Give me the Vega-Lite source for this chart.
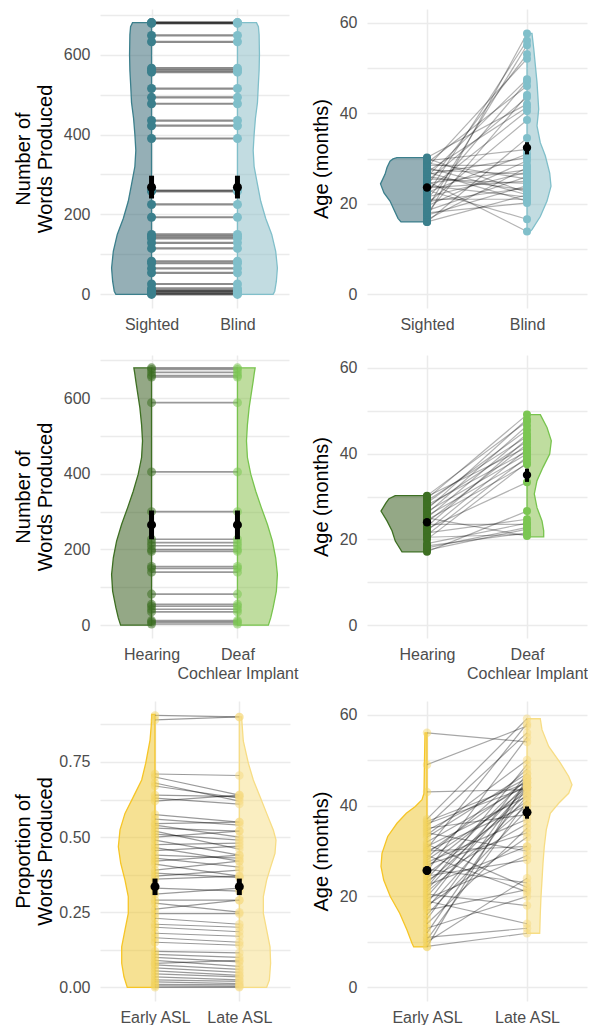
{
"$schema": "https://vega.github.io/schema/vega-lite/v6.json",
"padding": {"left": 13, "top": 6, "right": 0, "bottom": 0},
"config": {
  "view": {"stroke": null},
  "font": "Liberation Sans",
  "axis": {"domain": false, "ticks": false, "gridColor": "#EBEBEB", "gridWidth": 1.5, "labelColor": "#4D4D4D", "labelFontSize": 16, "labelFont": "Liberation Sans", "titleFont": "Liberation Sans", "titleFontSize": 20, "titleFontWeight": "normal", "titleColor": "#000000", "titlePadding": 8, "labelOverlap": false, "labelFlush": false, "titleLineHeight": 22, "labelLineHeight": 19},
  "axisX": {"labelPadding": 8},
  "axisY": {"labelPadding": 10}
},
"datasets": {
  "p1vl": [{"v":0,"e":0.585},{"v":8,"e":0.566},{"v":33,"e":0.547},{"v":66,"e":0.535},{"v":108,"e":0.555},{"v":150,"e":0.601},{"v":190,"e":0.671},{"v":233,"e":0.729},{"v":275,"e":0.767},{"v":320,"e":0.806},{"v":360,"e":0.817},{"v":400,"e":0.806},{"v":440,"e":0.791},{"v":480,"e":0.767},{"v":520,"e":0.758},{"v":560,"e":0.748},{"v":600,"e":0.744},{"v":650,"e":0.748},{"v":670,"e":0.756},{"v":680,"e":0.779}],
  "p1vr": [{"v":0,"e":2.415},{"v":8,"e":2.434},{"v":33,"e":2.453},{"v":66,"e":2.465},{"v":108,"e":2.445},{"v":150,"e":2.399},{"v":190,"e":2.329},{"v":233,"e":2.271},{"v":275,"e":2.233},{"v":320,"e":2.194},{"v":360,"e":2.183},{"v":400,"e":2.194},{"v":440,"e":2.209},{"v":480,"e":2.233},{"v":520,"e":2.242},{"v":560,"e":2.252},{"v":600,"e":2.256},{"v":650,"e":2.252},{"v":670,"e":2.244},{"v":680,"e":2.221}],
  "p1p": [{"a":680,"b":680},{"a":680,"b":680},{"a":678,"b":678},{"a":648,"b":648},{"a":632,"b":632},{"a":566,"b":566},{"a":561,"b":561},{"a":556,"b":556},{"a":515,"b":515},{"a":493,"b":493},{"a":477,"b":477},{"a":435,"b":435},{"a":422,"b":422},{"a":390,"b":390},{"a":260,"b":260},{"a":258,"b":258},{"a":225,"b":225},{"a":193,"b":193},{"a":150,"b":150},{"a":145,"b":145},{"a":140,"b":140},{"a":129,"b":129},{"a":115,"b":115},{"a":83,"b":83},{"a":78,"b":78},{"a":65,"b":65},{"a":54,"b":54},{"a":26,"b":26},{"a":15,"b":15},{"a":10,"b":10},{"a":8,"b":8},{"a":5,"b":5},{"a":2,"b":2},{"a":0,"b":0}],
  "p1m": [{"c":1,"m":268,"lo":240,"hi":297},{"c":2,"m":268,"lo":240,"hi":297}],
  "p2vl": [{"v":16.0,"e":0.74},{"v":16.8,"e":0.71},{"v":18.7,"e":0.67},{"v":20.6,"e":0.63},{"v":22.4,"e":0.57},{"v":24.4,"e":0.535},{"v":26.5,"e":0.58},{"v":28.0,"e":0.60},{"v":29.4,"e":0.63},{"v":29.9,"e":0.66},{"v":30.2,"e":0.70}],
  "p2vr": [{"v":13.9,"e":2.033},{"v":14.3,"e":2.05},{"v":17.2,"e":2.133},{"v":20.6,"e":2.2},{"v":23.9,"e":2.24},{"v":26.8,"e":2.227},{"v":30.6,"e":2.183},{"v":33.5,"e":2.133},{"v":37.2,"e":2.1},{"v":40.9,"e":2.117},{"v":46.8,"e":2.1},{"v":54.3,"e":2.067},{"v":57.6,"e":2.05}],
  "p2p": [{"a":17,"b":57.6},{"a":22,"b":56},{"a":19,"b":55},{"a":24,"b":53},{"a":28,"b":52},{"a":26,"b":47.5},{"a":21,"b":47},{"a":29,"b":46},{"a":18,"b":44},{"a":25,"b":43.5},{"a":30.2,"b":42},{"a":27,"b":41.3},{"a":23,"b":40.5},{"a":20,"b":38.5},{"a":16,"b":34.5},{"a":29.5,"b":32},{"a":22.5,"b":31},{"a":26.5,"b":30.2},{"a":19.5,"b":29.5},{"a":28.5,"b":28.5},{"a":16.5,"b":28},{"a":24.5,"b":27.5},{"a":21.5,"b":27},{"a":27.5,"b":26.5},{"a":18.5,"b":26},{"a":29,"b":25.5},{"a":23.5,"b":25},{"a":25.5,"b":24.5},{"a":17.5,"b":24},{"a":20.5,"b":23.5},{"a":26,"b":23},{"a":30,"b":22.5},{"a":28,"b":22},{"a":16,"b":22},{"a":24,"b":21.5},{"a":21,"b":21},{"a":27,"b":20.6},{"a":18,"b":20.2},{"a":23,"b":16.6},{"a":25,"b":13.9}],
  "p2m": [{"c":1,"m":23.6,"lo":23.0,"hi":24.2},{"c":2,"m":32.4,"lo":30.9,"hi":33.6}],
  "p3vl": [{"v":0,"e":0.640},{"v":19,"e":0.613},{"v":46,"e":0.585},{"v":90,"e":0.547},{"v":134,"e":0.535},{"v":178,"e":0.555},{"v":222,"e":0.593},{"v":266,"e":0.651},{"v":310,"e":0.721},{"v":354,"e":0.787},{"v":399,"e":0.845},{"v":443,"e":0.884},{"v":487,"e":0.895},{"v":530,"e":0.884},{"v":575,"e":0.864},{"v":645,"e":0.817},{"v":665,"e":0.805},{"v":680,"e":0.794}],
  "p3vr": [{"v":0,"e":2.360},{"v":19,"e":2.387},{"v":46,"e":2.415},{"v":90,"e":2.453},{"v":134,"e":2.465},{"v":178,"e":2.445},{"v":222,"e":2.407},{"v":266,"e":2.349},{"v":310,"e":2.279},{"v":354,"e":2.213},{"v":399,"e":2.155},{"v":443,"e":2.116},{"v":487,"e":2.105},{"v":530,"e":2.116},{"v":575,"e":2.136},{"v":645,"e":2.183},{"v":665,"e":2.195},{"v":680,"e":2.206}],
  "p3p": [{"a":680,"b":680},{"a":676,"b":676},{"a":668,"b":668},{"a":660,"b":660},{"a":656,"b":656},{"a":588,"b":588},{"a":405,"b":405},{"a":300,"b":300},{"a":227,"b":227},{"a":218,"b":218},{"a":210,"b":210},{"a":200,"b":200},{"a":195,"b":195},{"a":155,"b":155},{"a":150,"b":150},{"a":140,"b":140},{"a":82,"b":82},{"a":55,"b":55},{"a":50,"b":50},{"a":42,"b":42},{"a":35,"b":35},{"a":12,"b":12},{"a":8,"b":8},{"a":3,"b":3}],
  "p3m": [{"c":1,"m":265,"lo":227,"hi":303},{"c":2,"m":265,"lo":227,"hi":303}],
  "p4vl": [{"v":17.1,"e":0.75},{"v":19.6,"e":0.683},{"v":22.0,"e":0.65},{"v":24.3,"e":0.60},{"v":26.6,"e":0.54},{"v":28.5,"e":0.59},{"v":29.5,"e":0.62},{"v":30.2,"e":0.683}],
  "p4vr": [{"v":20.6,"e":2.167},{"v":22.0,"e":2.167},{"v":24.3,"e":2.15},{"v":27.4,"e":2.10},{"v":30.6,"e":2.073},{"v":33.7,"e":2.10},{"v":36.8,"e":2.16},{"v":39.9,"e":2.227},{"v":43.0,"e":2.243},{"v":46.1,"e":2.20},{"v":49.1,"e":2.133}],
  "p4p": [{"a":29.5,"b":49.1},{"a":27,"b":48},{"a":30.2,"b":47.5},{"a":26,"b":46.5},{"a":28.5,"b":45.5},{"a":25,"b":44.6},{"a":29,"b":44},{"a":23,"b":43.4},{"a":27.5,"b":42.8},{"a":24,"b":42.2},{"a":30,"b":41.5},{"a":22,"b":41},{"a":28,"b":40.5},{"a":26.5,"b":39.9},{"a":21,"b":39.2},{"a":25.5,"b":38.7},{"a":20,"b":37.9},{"a":24.5,"b":37.5},{"a":22.5,"b":33.3},{"a":17.1,"b":26.6},{"a":21.5,"b":24.7},{"a":19,"b":23.8},{"a":23.5,"b":23.5},{"a":18,"b":22.8},{"a":17.5,"b":22.4},{"a":20.5,"b":21.2},{"a":18.5,"b":21.5},{"a":25,"b":20.8}],
  "p4m": [{"c":1,"m":24.0,"lo":23.3,"hi":24.7},{"c":2,"m":35.0,"lo":33.4,"hi":36.5}],
  "p5vl": [{"v":0,"e":0.671},{"v":0.035,"e":0.632},{"v":0.08,"e":0.605},{"v":0.135,"e":0.605},{"v":0.191,"e":0.644},{"v":0.246,"e":0.683},{"v":0.302,"e":0.683},{"v":0.357,"e":0.644},{"v":0.413,"e":0.593},{"v":0.468,"e":0.565},{"v":0.524,"e":0.585},{"v":0.579,"e":0.644},{"v":0.634,"e":0.743},{"v":0.69,"e":0.842},{"v":0.746,"e":0.89},{"v":0.823,"e":0.941},{"v":0.87,"e":0.955},{"v":0.908,"e":0.961}],
  "p5vr": [{"v":0,"e":2.324},{"v":0.024,"e":2.356},{"v":0.08,"e":2.371},{"v":0.135,"e":2.364},{"v":0.191,"e":2.324},{"v":0.246,"e":2.285},{"v":0.302,"e":2.285},{"v":0.357,"e":2.324},{"v":0.40,"e":2.371},{"v":0.446,"e":2.423},{"v":0.49,"e":2.435},{"v":0.524,"e":2.403},{"v":0.579,"e":2.324},{"v":0.634,"e":2.246},{"v":0.69,"e":2.166},{"v":0.746,"e":2.107},{"v":0.82,"e":2.047},{"v":0.90,"e":2.027}],
  "p5p": [{"a":0.905,"b":0.90},{"a":0.89,"b":0.90},{"a":0.71,"b":0.705},{"a":0.70,"b":0.64},{"a":0.68,"b":0.62},{"a":0.67,"b":0.63},{"a":0.64,"b":0.635},{"a":0.63,"b":0.61},{"a":0.62,"b":0.64},{"a":0.575,"b":0.55},{"a":0.56,"b":0.54},{"a":0.545,"b":0.55},{"a":0.54,"b":0.50},{"a":0.53,"b":0.52},{"a":0.52,"b":0.46},{"a":0.51,"b":0.49},{"a":0.50,"b":0.52},{"a":0.49,"b":0.44},{"a":0.475,"b":0.48},{"a":0.465,"b":0.42},{"a":0.455,"b":0.47},{"a":0.44,"b":0.43},{"a":0.43,"b":0.40},{"a":0.42,"b":0.44},{"a":0.41,"b":0.37},{"a":0.39,"b":0.42},{"a":0.38,"b":0.365},{"a":0.37,"b":0.39},{"a":0.36,"b":0.37},{"a":0.33,"b":0.32},{"a":0.31,"b":0.33},{"a":0.29,"b":0.29},{"a":0.28,"b":0.25},{"a":0.26,"b":0.29},{"a":0.245,"b":0.245},{"a":0.23,"b":0.21},{"a":0.21,"b":0.20},{"a":0.20,"b":0.185},{"a":0.18,"b":0.17},{"a":0.165,"b":0.15},{"a":0.15,"b":0.14},{"a":0.12,"b":0.115},{"a":0.11,"b":0.10},{"a":0.10,"b":0.085},{"a":0.09,"b":0.07},{"a":0.08,"b":0.09},{"a":0.075,"b":0.06},{"a":0.065,"b":0.05},{"a":0.055,"b":0.04},{"a":0.045,"b":0.035},{"a":0.035,"b":0.025},{"a":0.025,"b":0.02},{"a":0.018,"b":0.012},{"a":0.01,"b":0.008},{"a":0.005,"b":0.003},{"a":0.0,"b":0.0}],
  "p5m": [{"c":1,"m":0.335,"lo":0.307,"hi":0.362},{"c":2,"m":0.335,"lo":0.307,"hi":0.362}],
  "p6vl": [{"v":8.9,"e":0.867},{"v":9.7,"e":0.85},{"v":12.6,"e":0.80},{"v":16.3,"e":0.727},{"v":20.0,"e":0.633},{"v":23.6,"e":0.567},{"v":26.6,"e":0.54},{"v":29.5,"e":0.55},{"v":33.2,"e":0.607},{"v":36.1,"e":0.70},{"v":38.3,"e":0.793},{"v":39.8,"e":0.883},{"v":41.3,"e":0.95},{"v":42.7,"e":0.97},{"v":50,"e":0.975},{"v":56,"e":0.98}],
  "p6vr": [{"v":11.9,"e":2.127},{"v":16.3,"e":2.133},{"v":20,"e":2.14},{"v":23.6,"e":2.15},{"v":27.3,"e":2.16},{"v":31,"e":2.173},{"v":34.7,"e":2.193},{"v":38.3,"e":2.233},{"v":40.5,"e":2.317},{"v":42.7,"e":2.417},{"v":44.6,"e":2.45},{"v":46.4,"e":2.417},{"v":49.4,"e":2.333},{"v":53,"e":2.217},{"v":56.7,"e":2.15},{"v":59.1,"e":2.133}],
  "p6p": [{"a":56,"b":54},{"a":49,"b":57.5},{"a":43,"b":43.5},{"a":37,"b":59.1},{"a":36.5,"b":45},{"a":36,"b":44},{"a":35.5,"b":56},{"a":35,"b":38},{"a":34.5,"b":46},{"a":34,"b":30},{"a":33.5,"b":50},{"a":33,"b":47},{"a":32,"b":44.5},{"a":31.5,"b":22},{"a":31,"b":42},{"a":30.5,"b":58},{"a":30,"b":40},{"a":30,"b":31},{"a":29.5,"b":45.5},{"a":29,"b":21},{"a":28.5,"b":48},{"a":28,"b":43},{"a":27.5,"b":37},{"a":27,"b":34},{"a":26.5,"b":44},{"a":26,"b":23},{"a":25.5,"b":55},{"a":25,"b":41},{"a":24.5,"b":28},{"a":24,"b":46},{"a":23.5,"b":36},{"a":23,"b":42.5},{"a":22.5,"b":31},{"a":22,"b":49},{"a":21.5,"b":45},{"a":21,"b":40},{"a":20.5,"b":18},{"a":20,"b":44},{"a":19.5,"b":29},{"a":19,"b":14},{"a":18.5,"b":47},{"a":18,"b":33},{"a":17.5,"b":42},{"a":17,"b":21.5},{"a":16,"b":39},{"a":15,"b":45},{"a":14,"b":35},{"a":13,"b":20},{"a":12,"b":44},{"a":11,"b":13},{"a":10.5,"b":41},{"a":10,"b":24},{"a":9,"b":11.9},{"a":8.9,"b":46}],
  "p6m": [{"c":1,"m":25.7,"lo":24.8,"hi":26.6},{"c":2,"m":38.5,"lo":37.1,"hi":39.8}]
},
"spacing": 20,
"vconcat": [
  {"hconcat": [
    {"width": 189, "height": 299, "layer": [
      {"data": {"name": "p1vl"}, "mark": {"type": "area", "orient": "horizontal", "fill": "#3E6E7A", "fillOpacity": 0.55, "stroke": "#3B7F8C", "strokeWidth": 1.3},
       "encoding": {
         "x": {"field": "e", "type": "quantitative", "title": null, "scale": {"domain": [0.4, 2.6], "nice": false, "zero": false}, "axis": {"values": [1, 2], "grid": true, "labelExpr": "datum.value == 1 ? 'Sighted' : 'Blind'"}},
         "x2": {"datum": 1},
         "y": {"field": "v", "type": "quantitative", "scale": {"domain": [-34, 714], "nice": false, "zero": false}, "axis": {"values": [0,100,200,300,400,500,600,700], "labelExpr": "datum.value % 200 == 0 ? datum.label : ''", "title": ["Number of", "Words Produced"]}}}},
      {"data": {"name": "p1vr"}, "mark": {"type": "area", "orient": "horizontal", "fill": "#90C0C9", "fillOpacity": 0.55, "stroke": "#80BFCA", "strokeWidth": 1.3},
       "encoding": {"x": {"field": "e", "type": "quantitative"}, "x2": {"datum": 2}, "y": {"field": "v", "type": "quantitative"}}},
      {"data": {"name": "p1p"}, "mark": {"type": "rule", "color": "#000000", "opacity": 0.45, "strokeWidth": 2.2},
       "encoding": {"x": {"datum": 1, "type": "quantitative"}, "x2": {"datum": 2}, "y": {"field": "a", "type": "quantitative"}, "y2": {"field": "b"}}},
      {"data": {"name": "p1p"}, "mark": {"type": "circle", "size": 81, "color": "#3B7F8C", "opacity": 1},
       "encoding": {"x": {"datum": 1, "type": "quantitative"}, "y": {"field": "a", "type": "quantitative"}}},
      {"data": {"name": "p1p"}, "mark": {"type": "circle", "size": 81, "color": "#80BFCA", "opacity": 1},
       "encoding": {"x": {"datum": 2, "type": "quantitative"}, "y": {"field": "b", "type": "quantitative"}}},
      {"data": {"name": "p1m"}, "mark": {"type": "rule", "color": "#000000", "strokeWidth": 5},
       "encoding": {"x": {"field": "c", "type": "quantitative"}, "y": {"field": "lo", "type": "quantitative"}, "y2": {"field": "hi"}}},
      {"data": {"name": "p1m"}, "mark": {"type": "circle", "size": 81, "color": "#000000", "opacity": 1},
       "encoding": {"x": {"field": "c", "type": "quantitative"}, "y": {"field": "m", "type": "quantitative"}}}
    ]},
    {"width": 220, "height": 299, "layer": [
      {"data": {"name": "p2vl"}, "mark": {"type": "area", "orient": "horizontal", "fill": "#3E6E7A", "fillOpacity": 0.55, "stroke": "#3B7F8C", "strokeWidth": 1.3},
       "encoding": {
         "x": {"field": "e", "type": "quantitative", "title": null, "scale": {"domain": [0.4, 2.6], "nice": false, "zero": false}, "axis": {"values": [1, 2], "grid": true, "labelExpr": "datum.value == 1 ? 'Sighted' : 'Blind'"}},
         "x2": {"datum": 1},
         "y": {"field": "v", "type": "quantitative", "scale": {"domain": [-3, 63], "nice": false, "zero": false}, "axis": {"values": [0,10,20,30,40,50,60], "labelExpr": "datum.value % 20 == 0 ? datum.label : ''", "title": "Age (months)"}}}},
      {"data": {"name": "p2vr"}, "mark": {"type": "area", "orient": "horizontal", "fill": "#90C0C9", "fillOpacity": 0.55, "stroke": "#80BFCA", "strokeWidth": 1.3},
       "encoding": {"x": {"field": "e", "type": "quantitative"}, "x2": {"datum": 2}, "y": {"field": "v", "type": "quantitative"}}},
      {"data": {"name": "p2p"}, "mark": {"type": "rule", "color": "#000000", "opacity": 0.3, "strokeWidth": 1.2},
       "encoding": {"x": {"datum": 1, "type": "quantitative"}, "x2": {"datum": 2}, "y": {"field": "a", "type": "quantitative"}, "y2": {"field": "b"}}},
      {"data": {"name": "p2p"}, "mark": {"type": "circle", "size": 64, "color": "#3B7F8C", "opacity": 1},
       "encoding": {"x": {"datum": 1, "type": "quantitative"}, "y": {"field": "a", "type": "quantitative"}}},
      {"data": {"name": "p2p"}, "mark": {"type": "circle", "size": 64, "color": "#80BFCA", "opacity": 1},
       "encoding": {"x": {"datum": 2, "type": "quantitative"}, "y": {"field": "b", "type": "quantitative"}}},
      {"data": {"name": "p2m"}, "mark": {"type": "rule", "color": "#000000", "strokeWidth": 4},
       "encoding": {"x": {"field": "c", "type": "quantitative"}, "y": {"field": "lo", "type": "quantitative"}, "y2": {"field": "hi"}}},
      {"data": {"name": "p2m"}, "mark": {"type": "circle", "size": 70, "color": "#000000", "opacity": 1},
       "encoding": {"x": {"field": "c", "type": "quantitative"}, "y": {"field": "m", "type": "quantitative"}}}
    ]}
  ], "spacing": 78, "bounds": "flush"},
  {"hconcat": [
    {"width": 189, "height": 283, "layer": [
      {"data": {"name": "p3vl"}, "mark": {"type": "area", "orient": "horizontal", "fill": "#3C6123", "fillOpacity": 0.55, "stroke": "#3D6F22", "strokeWidth": 1.3},
       "encoding": {
         "x": {"field": "e", "type": "quantitative", "title": null, "scale": {"domain": [0.4, 2.6], "nice": false, "zero": false}, "axis": {"values": [1, 2], "grid": true, "labelExpr": "datum.value == 1 ? 'Hearing' : ['Deaf', 'Cochlear Implant']"}},
         "x2": {"datum": 1},
         "y": {"field": "v", "type": "quantitative", "scale": {"domain": [-34, 714], "nice": false, "zero": false}, "axis": {"values": [0,100,200,300,400,500,600,700], "labelExpr": "datum.value % 200 == 0 ? datum.label : ''", "title": ["Number of", "Words Produced"]}}}},
      {"data": {"name": "p3vr"}, "mark": {"type": "area", "orient": "horizontal", "fill": "#8BC150", "fillOpacity": 0.55, "stroke": "#78C44E", "strokeWidth": 1.3},
       "encoding": {"x": {"field": "e", "type": "quantitative"}, "x2": {"datum": 2}, "y": {"field": "v", "type": "quantitative"}}},
      {"data": {"name": "p3p"}, "mark": {"type": "rule", "color": "#000000", "opacity": 0.4, "strokeWidth": 1.6},
       "encoding": {"x": {"datum": 1, "type": "quantitative"}, "x2": {"datum": 2}, "y": {"field": "a", "type": "quantitative"}, "y2": {"field": "b"}}},
      {"data": {"name": "p3p"}, "mark": {"type": "circle", "size": 81, "color": "#3D6F22", "opacity": 0.55},
       "encoding": {"x": {"datum": 1, "type": "quantitative"}, "y": {"field": "a", "type": "quantitative"}}},
      {"data": {"name": "p3p"}, "mark": {"type": "circle", "size": 81, "color": "#7BC653", "opacity": 0.55},
       "encoding": {"x": {"datum": 2, "type": "quantitative"}, "y": {"field": "b", "type": "quantitative"}}},
      {"data": {"name": "p3m"}, "mark": {"type": "rule", "color": "#000000", "strokeWidth": 5},
       "encoding": {"x": {"field": "c", "type": "quantitative"}, "y": {"field": "lo", "type": "quantitative"}, "y2": {"field": "hi"}}},
      {"data": {"name": "p3m"}, "mark": {"type": "circle", "size": 81, "color": "#000000", "opacity": 1},
       "encoding": {"x": {"field": "c", "type": "quantitative"}, "y": {"field": "m", "type": "quantitative"}}}
    ]},
    {"width": 220, "height": 283, "layer": [
      {"data": {"name": "p4vl"}, "mark": {"type": "area", "orient": "horizontal", "fill": "#3C6123", "fillOpacity": 0.55, "stroke": "#3D6F22", "strokeWidth": 1.3},
       "encoding": {
         "x": {"field": "e", "type": "quantitative", "title": null, "scale": {"domain": [0.4, 2.6], "nice": false, "zero": false}, "axis": {"values": [1, 2], "grid": true, "labelExpr": "datum.value == 1 ? 'Hearing' : ['Deaf', 'Cochlear Implant']"}},
         "x2": {"datum": 1},
         "y": {"field": "v", "type": "quantitative", "scale": {"domain": [-3, 63], "nice": false, "zero": false}, "axis": {"values": [0,10,20,30,40,50,60], "labelExpr": "datum.value % 20 == 0 ? datum.label : ''", "title": "Age (months)"}}}},
      {"data": {"name": "p4vr"}, "mark": {"type": "area", "orient": "horizontal", "fill": "#8BC150", "fillOpacity": 0.55, "stroke": "#78C44E", "strokeWidth": 1.3},
       "encoding": {"x": {"field": "e", "type": "quantitative"}, "x2": {"datum": 2}, "y": {"field": "v", "type": "quantitative"}}},
      {"data": {"name": "p4p"}, "mark": {"type": "rule", "color": "#000000", "opacity": 0.3, "strokeWidth": 1.2},
       "encoding": {"x": {"datum": 1, "type": "quantitative"}, "x2": {"datum": 2}, "y": {"field": "a", "type": "quantitative"}, "y2": {"field": "b"}}},
      {"data": {"name": "p4p"}, "mark": {"type": "circle", "size": 64, "color": "#3D6F22", "opacity": 1},
       "encoding": {"x": {"datum": 1, "type": "quantitative"}, "y": {"field": "a", "type": "quantitative"}}},
      {"data": {"name": "p4p"}, "mark": {"type": "circle", "size": 64, "color": "#7BC653", "opacity": 1},
       "encoding": {"x": {"datum": 2, "type": "quantitative"}, "y": {"field": "b", "type": "quantitative"}}},
      {"data": {"name": "p4m"}, "mark": {"type": "rule", "color": "#000000", "strokeWidth": 4},
       "encoding": {"x": {"field": "c", "type": "quantitative"}, "y": {"field": "lo", "type": "quantitative"}, "y2": {"field": "hi"}}},
      {"data": {"name": "p4m"}, "mark": {"type": "circle", "size": 70, "color": "#000000", "opacity": 1},
       "encoding": {"x": {"field": "c", "type": "quantitative"}, "y": {"field": "m", "type": "quantitative"}}}
    ]}
  ], "spacing": 78, "bounds": "flush"},
  {"hconcat": [
    {"width": 190, "height": 300, "layer": [
      {"data": {"name": "p5vl"}, "mark": {"type": "area", "orient": "horizontal", "fill": "#EEC93A", "fillOpacity": 0.55, "stroke": "#F6C526", "strokeWidth": 1.3},
       "encoding": {
         "x": {"field": "e", "type": "quantitative", "title": null, "scale": {"domain": [0.3476, 2.601], "nice": false, "zero": false}, "axis": {"values": [1, 2], "grid": true, "labelExpr": "datum.value == 1 ? 'Early ASL' : 'Late ASL'"}},
         "x2": {"datum": 1},
         "y": {"field": "v", "type": "quantitative", "scale": {"domain": [-0.0455, 0.953], "nice": false, "zero": false}, "axis": {"values": [0,0.125,0.25,0.375,0.5,0.625,0.75,0.875], "format": ".2f", "titlePadding": 3, "labelExpr": "(datum.value == 0 || datum.value == 0.25 || datum.value == 0.5 || datum.value == 0.75) ? datum.label : ''", "title": ["Proportion of", "Words Produced"]}}}},
      {"data": {"name": "p5vr"}, "mark": {"type": "area", "orient": "horizontal", "fill": "#F5E08E", "fillOpacity": 0.55, "stroke": "#F7DD85", "strokeWidth": 1.3},
       "encoding": {"x": {"field": "e", "type": "quantitative"}, "x2": {"datum": 2}, "y": {"field": "v", "type": "quantitative"}}},
      {"data": {"name": "p5p"}, "mark": {"type": "rule", "color": "#000000", "opacity": 0.4, "strokeWidth": 1.2},
       "encoding": {"x": {"datum": 1, "type": "quantitative"}, "x2": {"datum": 2}, "y": {"field": "a", "type": "quantitative"}, "y2": {"field": "b"}}},
      {"data": {"name": "p5p"}, "mark": {"type": "circle", "size": 72, "color": "#F2D25E", "opacity": 0.45},
       "encoding": {"x": {"datum": 1, "type": "quantitative"}, "y": {"field": "a", "type": "quantitative"}}},
      {"data": {"name": "p5p"}, "mark": {"type": "circle", "size": 72, "color": "#F5DA80", "opacity": 0.5},
       "encoding": {"x": {"datum": 2, "type": "quantitative"}, "y": {"field": "b", "type": "quantitative"}}},
      {"data": {"name": "p5m"}, "mark": {"type": "rule", "color": "#000000", "strokeWidth": 5},
       "encoding": {"x": {"field": "c", "type": "quantitative"}, "y": {"field": "lo", "type": "quantitative"}, "y2": {"field": "hi"}}},
      {"data": {"name": "p5m"}, "mark": {"type": "circle", "size": 81, "color": "#000000", "opacity": 1},
       "encoding": {"x": {"field": "c", "type": "quantitative"}, "y": {"field": "m", "type": "quantitative"}}}
    ]},
    {"width": 220, "height": 300, "layer": [
      {"data": {"name": "p6vl"}, "mark": {"type": "area", "orient": "horizontal", "fill": "#EEC93A", "fillOpacity": 0.55, "stroke": "#F6C526", "strokeWidth": 1.3},
       "encoding": {
         "x": {"field": "e", "type": "quantitative", "title": null, "scale": {"domain": [0.4, 2.6], "nice": false, "zero": false}, "axis": {"values": [1, 2], "grid": true, "labelExpr": "datum.value == 1 ? 'Early ASL' : 'Late ASL'"}},
         "x2": {"datum": 1},
         "y": {"field": "v", "type": "quantitative", "scale": {"domain": [-3, 63], "nice": false, "zero": false}, "axis": {"values": [0,10,20,30,40,50,60], "labelExpr": "datum.value % 20 == 0 ? datum.label : ''", "title": "Age (months)"}}}},
      {"data": {"name": "p6vr"}, "mark": {"type": "area", "orient": "horizontal", "fill": "#F5E08E", "fillOpacity": 0.55, "stroke": "#F7DD85", "strokeWidth": 1.3},
       "encoding": {"x": {"field": "e", "type": "quantitative"}, "x2": {"datum": 2}, "y": {"field": "v", "type": "quantitative"}}},
      {"data": {"name": "p6p"}, "mark": {"type": "rule", "color": "#000000", "opacity": 0.35, "strokeWidth": 1.2},
       "encoding": {"x": {"datum": 1, "type": "quantitative"}, "x2": {"datum": 2}, "y": {"field": "a", "type": "quantitative"}, "y2": {"field": "b"}}},
      {"data": {"name": "p6p"}, "mark": {"type": "circle", "size": 72, "color": "#F2D25E", "opacity": 0.45},
       "encoding": {"x": {"datum": 1, "type": "quantitative"}, "y": {"field": "a", "type": "quantitative"}}},
      {"data": {"name": "p6p"}, "mark": {"type": "circle", "size": 72, "color": "#F5DA80", "opacity": 0.5},
       "encoding": {"x": {"datum": 2, "type": "quantitative"}, "y": {"field": "b", "type": "quantitative"}}},
      {"data": {"name": "p6m"}, "mark": {"type": "rule", "color": "#000000", "strokeWidth": 4},
       "encoding": {"x": {"field": "c", "type": "quantitative"}, "y": {"field": "lo", "type": "quantitative"}, "y2": {"field": "hi"}}},
      {"data": {"name": "p6m"}, "mark": {"type": "circle", "size": 81, "color": "#000000", "opacity": 1},
       "encoding": {"x": {"field": "c", "type": "quantitative"}, "y": {"field": "m", "type": "quantitative"}}}
    ]}
  ], "spacing": 77, "bounds": "flush"}
]
}
